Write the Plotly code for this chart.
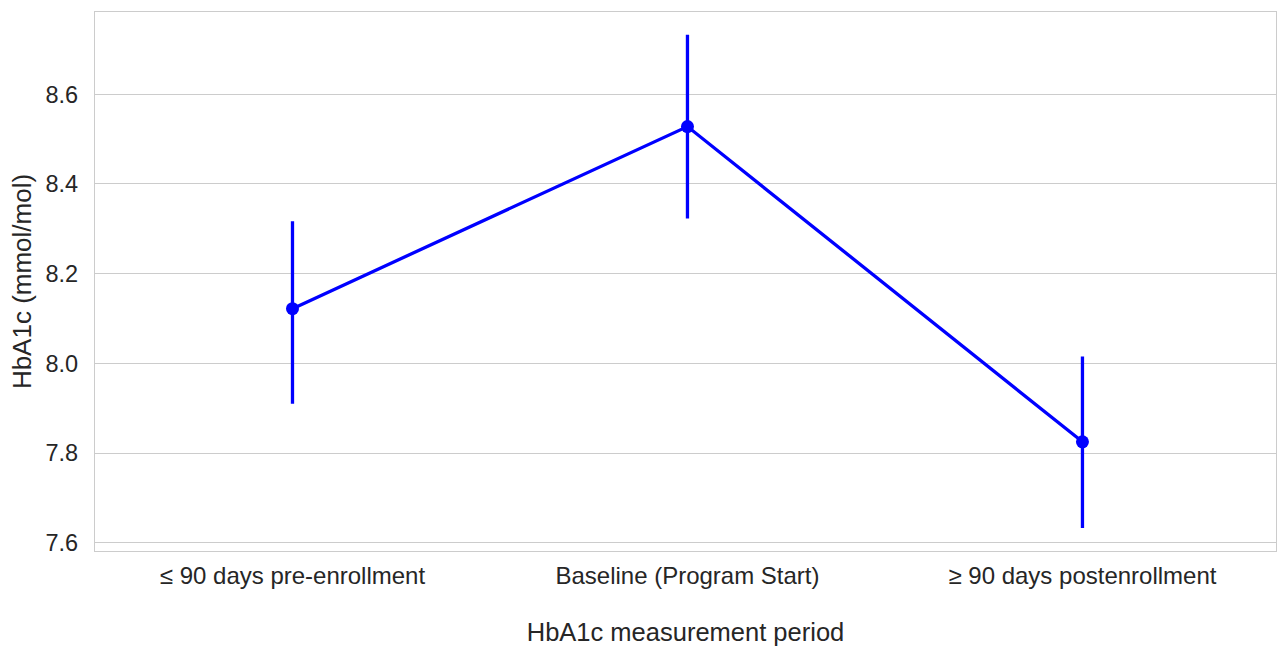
import plotly.graph_objects as go

# HbA1c means with 95% CI bounds per measurement period
periods = ["≤ 90 days pre-enrollment", "Baseline (Program Start)", "≥ 90 days postenrollment"]
hba1c_mean = [8.122, 8.528, 7.825]
ci_upper = [8.317, 8.733, 8.015]
ci_lower = [7.910, 8.323, 7.633]

y_ticks = [7.6, 7.8, 8.0, 8.2, 8.4, 8.6]

err_plus = [u - m for u, m in zip(ci_upper, hba1c_mean)]
err_minus = [m - l for m, l in zip(hba1c_mean, ci_lower)]

blue = "#0000FF"
text_color = "#262626"
grid_color = "#cccccc"

fig = go.Figure()
fig.add_trace(go.Scatter(
    x=periods,
    y=hba1c_mean,
    mode="lines+markers",
    line=dict(color=blue, width=3.3),
    marker=dict(color=blue, size=13),
    error_y=dict(type="data", symmetric=False, array=err_plus, arrayminus=err_minus,
                 color=blue, thickness=3.3, width=0),
    showlegend=False,
))

fig.update_layout(
    width=1277, height=646,
    margin=dict(l=95, r=1, t=12, b=95),
    plot_bgcolor="white", paper_bgcolor="white",
    font=dict(family="Liberation Sans, Arial, sans-serif", size=24, color=text_color),
)
fig.update_xaxes(
    type="category",
    range=[-0.5, 2.49],
    showgrid=False,
    showline=True, mirror=True, linecolor=grid_color, linewidth=1.3,
    ticks="", ticklabelstandoff=3,
    tickfont=dict(size=24),
    title=dict(text="HbA1c measurement period", font=dict(size=25.5), standoff=35),
    zeroline=False,
)
fig.update_yaxes(
    range=[7.5815, 8.7835],
    tickvals=y_ticks,
    ticktext=[f"{v:.1f}" for v in y_ticks],
    showgrid=True, gridcolor=grid_color, gridwidth=1.2,
    showline=True, mirror=True, linecolor=grid_color, linewidth=1.3,
    ticks="", ticklabelstandoff=11,
    tickfont=dict(size=23.5),
    title=dict(text="HbA1c (mmol/mol)", font=dict(size=26), standoff=6),
    zeroline=False,
)

fig.write_html("out.html")
